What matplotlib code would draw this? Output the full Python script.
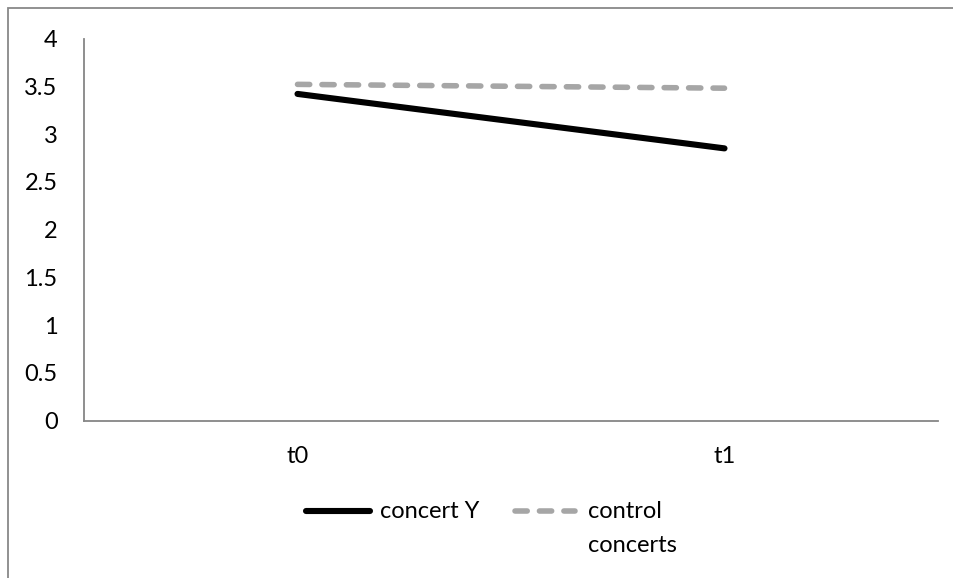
import matplotlib
matplotlib.use("Agg")
import matplotlib.pyplot as plt
from matplotlib.lines import Line2D
from matplotlib.patches import Rectangle

# ---- data ----
categories = ["t0", "t1"]
concert_y = [3.42, 2.85]
control_concerts = [3.52, 3.48]
series_labels = ["concert Y", "control\nconcerts"]
y_ticks = [0, 0.5, 1, 1.5, 2, 2.5, 3, 3.5, 4]
y_tick_labels = ["0", "0.5", "1", "1.5", "2", "2.5", "3", "3.5", "4"]

plt.rcParams["font.family"] = ["Lato", "DejaVu Sans"]
FS = 17

W, H = 954, 578
fig = plt.figure(figsize=(W / 100, H / 100), dpi=100)

def fx(px):
    return px / W

def fy(py):
    return (H - py) / H

# outer chart border (only left/top visible)
fig.patches.append(Rectangle((fx(8), -0.1), 1.2, fy(8) + 0.1, transform=fig.transFigure,
                             fill=False, edgecolor="#888888", linewidth=1.3))

ax = fig.add_axes([fx(84), fy(420.7), fx(938) - fx(84), fy(38.5) - fy(420.7)])

x = range(len(categories))
black = "#000000"
gray = "#a6a6a6"
LW_B = 4.4
LW_G = 4.0
DASH = (2.2, 2.2)

ax.plot(x, concert_y, color=black, lw=LW_B, solid_capstyle="round")
ax.plot(x, control_concerts, color=gray, lw=LW_G, dashes=DASH, dash_capstyle="round")

ax.set_xlim(-0.5, len(categories) - 0.5)
ax.set_ylim(0, 4)
ax.set_xticks(list(x))
ax.set_xticklabels(categories, fontsize=FS)
ax.set_yticks(y_ticks)
ax.set_yticklabels(y_tick_labels, fontsize=FS)
ax.tick_params(axis="both", length=0)
ax.tick_params(axis="y", pad=19)
ax.tick_params(axis="x", pad=18)

for s in ["top", "right"]:
    ax.spines[s].set_visible(False)
for s in ["left", "bottom"]:
    ax.spines[s].set_color("#868686")
    ax.spines[s].set_linewidth(1.3)

# ---- legend (manual, Excel-like) ----
leg_y = 511
fig.add_artist(Line2D([fx(306), fx(370)], [fy(leg_y), fy(leg_y)], transform=fig.transFigure,
                      color=black, lw=LW_B, solid_capstyle="round"))
fig.text(fx(380), fy(leg_y), series_labels[0], fontsize=FS, va="center", ha="left")

fig.add_artist(Line2D([fx(515), fx(575)], [fy(leg_y), fy(leg_y)], transform=fig.transFigure,
                      color=gray, lw=LW_G, dashes=DASH, dash_capstyle="round"))
for i, line in enumerate(series_labels[1].split("\n")):
    fig.text(fx(588), fy(leg_y + 34 * i), line, fontsize=FS, va="center", ha="left")

fig.savefig("out.png", dpi=100)
